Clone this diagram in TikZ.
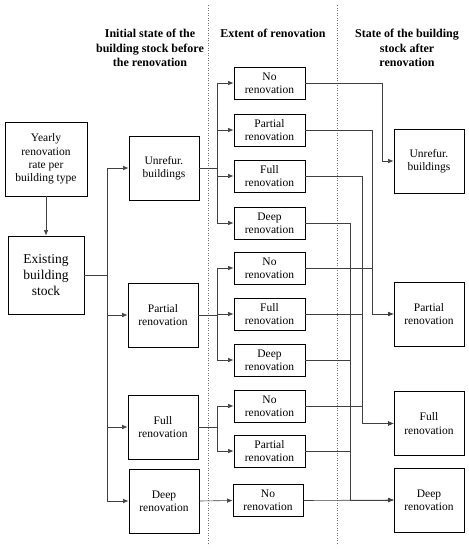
\documentclass[tikz,border=0pt]{standalone}
\usepackage{fontspec}
\setmainfont{Liberation Serif}
\usetikzlibrary{arrows.meta}
\begin{document}
\begin{tikzpicture}[x=1pt,y=-1pt,
  box/.style={draw=black,line width=0.9pt,rectangle,inner sep=0pt,align=center,
    font=\fontsize{11.5}{13.3}\selectfont},
  lbox/.style={box,minimum width=70pt,minimum height=64pt},
  mbox/.style={box,minimum width=71pt,minimum height=32pt},
  hdr/.style={align=center,font=\fontsize{12}{14.5}\selectfont\bfseries},
  conn/.style={draw=black!75,line width=0.6pt},
  arr/.style={conn,-{Latex[length=5.5pt,width=4.5pt]}},
  sep/.style={draw=black!55,line width=0.5pt,dotted}]
\useasboundingbox (0,0) rectangle (469,550);
% separators
\draw[sep] (208,5) -- (208,545);
\draw[sep] (337,5) -- (337,545);
% headers
\node[hdr] (h1) at (150,48) {Initial state of the\\building stock before\\the renovation};
\node[hdr] (h2) at (273,33) {Extent of renovation};
\node[hdr] (h3) at (407,48) {State of the building\\stock after\\renovation};
% left
\node[box,minimum width=82pt,minimum height=74pt] (yr) at (46,159) {Yearly\\renovation\\rate per\\building type};
\node[box,minimum width=76pt,minimum height=78pt,font=\fontsize{13.5}{16.3}\selectfont] (ex) at (46,275) {Existing\\building\\stock};
\draw[arr] (yr.south) -- (ex.north);
% second column
\node[lbox] (l1) at (164,168) {Unrefur.\\buildings};
\node[lbox] (l2) at (163,315) {Partial\\renovation};
\node[lbox] (l3) at (163,427) {Full\\renovation};
\node[lbox] (l4) at (164,501) {Deep\\renovation};
\coordinate (b0) at (107,275);
\foreach \t in {l1,l2,l3,l4} \draw[arr] (ex.east) -- (b0) |- (\t.west);
% middle column
\node[mbox] (m1) at (269.5,83) {No\\renovation};
\node[mbox] (m2) at (269.5,130) {Partial\\renovation};
\node[mbox] (m3) at (269.5,176) {Full\\renovation};
\node[mbox] (m4) at (269.5,223) {Deep\\renovation};
\node[mbox] (m5) at (269.5,268) {No\\renovation};
\node[mbox] (m6) at (269.5,314) {Full\\renovation};
\node[mbox] (m7) at (269.5,360) {Deep\\renovation};
\node[mbox] (m8) at (269.5,406) {No\\renovation};
\node[mbox] (m9) at (269.5,451) {Partial\\renovation};
\node[mbox,minimum width=70pt] (m10) at (268,500.5) {No\\renovation};
\coordinate (b1) at (217,168);
\coordinate (b2) at (217,315);
\coordinate (b3) at (217,427);
\foreach \t in {m1,m2,m3,m4} \draw[arr] (l1.east) -- (b1) |- (\t.west);
\foreach \t in {m5,m6,m7} \draw[arr] (l2.east) -- (b2) |- (\t.west);
\foreach \t in {m8,m9} \draw[arr] (l3.east) -- (b3) |- (\t.west);
\draw[arr] (l4.east) -- (m10.west);
% right column
\node[lbox] (r1) at (429,161) {Unrefur.\\buildings};
\node[lbox] (r2) at (429,314) {Partial\\renovation};
\node[lbox] (r3) at (429,423.5) {Full\\renovation};
\node[lbox] (r4) at (429,500) {Deep\\renovation};
\coordinate (x1) at (382,0);
\coordinate (x2) at (372,0);
\coordinate (x3) at (362,0);
\coordinate (x4) at (350,0);
\draw[arr] (m1.east) -- (m1.east -| x1) |- (r1.west);
\foreach \s in {m2,m5} \draw[arr] (\s.east) -- (\s.east -| x2) |- (r2.west);
\foreach \s in {m3,m6,m8} \draw[arr] (\s.east) -- (\s.east -| x3) |- (r3.west);
\foreach \s in {m4,m7,m9} \draw[arr] (\s.east) -- (\s.east -| x4) |- (r4.west);
\draw[arr] (m10.east) -- (r4.west);
\end{tikzpicture}
\end{document}
